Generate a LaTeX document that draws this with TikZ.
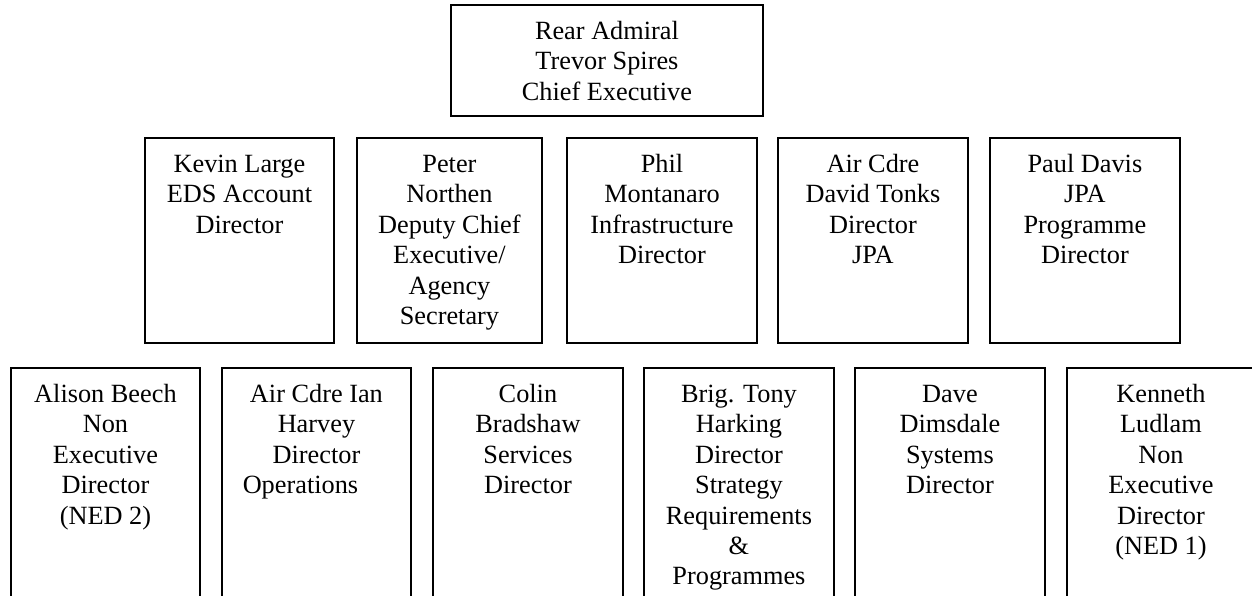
\documentclass[tikz,border=0pt]{standalone}
\usepackage{fontspec}
\setmainfont{Liberation Serif}
\begin{document}
\begin{tikzpicture}[x=1pt,y=1pt,
  orgcell/.style={draw=black, line width=1.9pt, fill=none, inner sep=0pt, anchor=north west},
  orgtext/.style={inner sep=0pt, anchor=base,
    font=\fontsize{26.3}{30.4}\selectfont}]
% #1 name, #2 left, #3 top, #4 right, #5 bottom (pixels from top-left), #6 lines
\newcommand\orgbox[6]{%
  \node[orgcell, minimum width=#4-#2, minimum height=#5-#3] (#1) at (#2,-#3) {};
  \node[orgtext] (#1-t) at ([yshift=-35.5pt]#1.north)
    {\begin{tabular}[t]{@{}c@{}}#6\end{tabular}};
}
\useasboundingbox (0,0) rectangle (1252,-596);
\clip (0,0) rectangle (1252,-596);
\fill[white] (0,0) rectangle (1252,-596);

% chief executive
\orgbox{ce}{450}{4}{762}{115}{Rear Admiral\\Trevor Spires\\Chief Executive}

% second tier
\orgbox{kl}{144}{137}{333}{342}{Kevin Large\\EDS Account\\Director}
\orgbox{pn}{356}{137}{541}{342}{Peter\\Northen\\Deputy Chief\\Executive/\\Agency\\Secretary}
\orgbox{pm}{566}{137}{756}{342}{Phil\\Montanaro\\Infrastructure\\Director}
\orgbox{dt}{777}{137}{967}{342}{Air Cdre\\David Tonks\\Director\\JPA}
\orgbox{pd}{989}{137}{1179}{342}{Paul Davis\\JPA\\Programme\\Director}

% third tier (runs past the lower edge)
\orgbox{ab}{10}{367}{199}{640}{Alison Beech\\Non\\Executive\\Director\\(NED 2)}
\orgbox{ih}{221}{367}{410}{640}{Air Cdre Ian\\Harvey\\Director\\Operations\hspace*{32pt}}
\orgbox{cb}{432}{367}{622}{640}{Colin\\Bradshaw\\Services\\Director}
\orgbox{th}{643}{367}{833}{640}{Brig. Tony\\Harking\\Director\\Strategy\\Requirements\\\&\\Programmes}
\orgbox{dd}{854}{367}{1044}{640}{Dave\\Dimsdale\\Systems\\Director}
\orgbox{kn}{1066}{367}{1254}{640}{Kenneth\\Ludlam\\Non\\Executive\\Director\\(NED 1)}
\end{tikzpicture}
\end{document}
